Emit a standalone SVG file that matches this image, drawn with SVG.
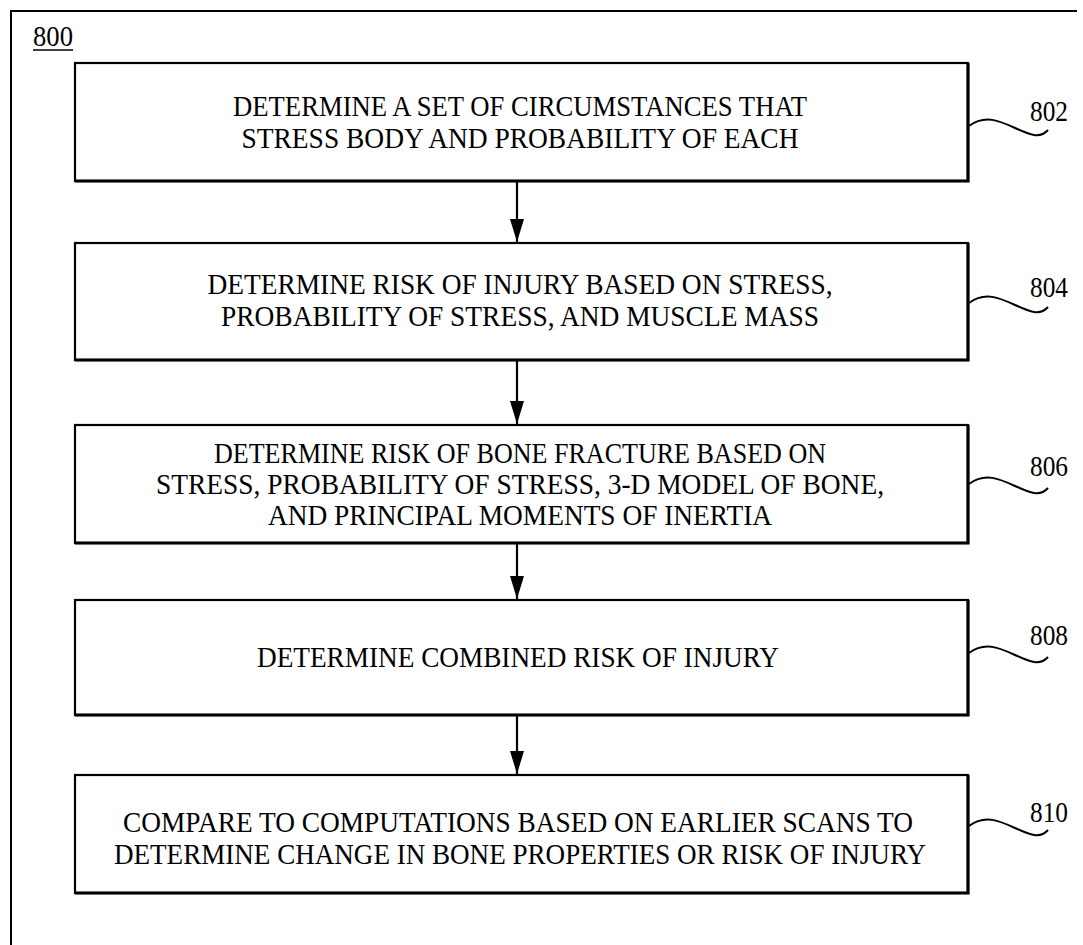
<svg xmlns="http://www.w3.org/2000/svg" width="1083" height="945" viewBox="0 0 1083 945">
<style>
.box{fill:#fff;stroke:#000;stroke-width:2.2}
.shadow{fill:none;stroke:#000;stroke-width:3.2}
.t{font-family:"Liberation Serif","Times New Roman",serif;font-size:30px;fill:#000;text-anchor:middle}
.lbl{font-family:"Liberation Serif","Times New Roman",serif;font-size:30px;fill:#000}
.lead{fill:none;stroke:#000;stroke-width:2}
.arr{stroke:#000;stroke-width:2.2;fill:none}
</style>
<defs>
<marker id="ah" markerWidth="23" markerHeight="14" refX="23" refY="7" orient="auto" markerUnits="userSpaceOnUse" viewBox="0 0 23 14">
<path d="M0,0 L23,7 L0,14 Z" fill="#000"/>
</marker>
</defs>
<rect width="1083" height="945" fill="#fff"/>
<path d="M11,945 V11 H1077" fill="none" stroke="#000" stroke-width="2"/>
<g id="label800">
<text class="lbl" x="33" y="46" textLength="40" lengthAdjust="spacingAndGlyphs">800</text>
<line x1="33" y1="50" x2="73" y2="50" stroke="#000" stroke-width="1.5"/>
</g>
<g id="connectors">
<line class="arr" x1="517" y1="182" x2="517" y2="242" marker-end="url(#ah)"/>
<line class="arr" x1="517" y1="361" x2="517" y2="424" marker-end="url(#ah)"/>
<line class="arr" x1="517" y1="544" x2="517" y2="599" marker-end="url(#ah)"/>
<line class="arr" x1="517" y1="716" x2="517" y2="774" marker-end="url(#ah)"/>
</g>
<g id="n802">
<rect class="box" x="75" y="63" width="893" height="118"/>
<path class="shadow" d="M968,63 V181 H75"/>
<text class="t" x="520" y="116" textLength="574" lengthAdjust="spacingAndGlyphs">DETERMINE A SET OF CIRCUMSTANCES THAT</text>
<text class="t" x="520" y="148" textLength="557" lengthAdjust="spacingAndGlyphs">STRESS BODY AND PROBABILITY OF EACH</text>
<path class="lead" d="M969,126 C985,114 1000,121 1015,128 S1040,139 1048,130"/>
<text class="lbl" x="1030" y="121" textLength="38" lengthAdjust="spacingAndGlyphs">802</text>
</g>
<g id="n804">
<rect class="box" x="75" y="243" width="893" height="117"/>
<path class="shadow" d="M968,243 V360 H75"/>
<text class="t" x="520" y="294" textLength="625" lengthAdjust="spacingAndGlyphs">DETERMINE RISK OF INJURY BASED ON STRESS,</text>
<text class="t" x="520" y="326" textLength="598" lengthAdjust="spacingAndGlyphs">PROBABILITY OF STRESS, AND MUSCLE MASS</text>
<path class="lead" d="M969,303 C985,291 1000,298 1015,305 S1040,316 1048,307"/>
<text class="lbl" x="1030" y="297" textLength="38" lengthAdjust="spacingAndGlyphs">804</text>
</g>
<g id="n806">
<rect class="box" x="75" y="425" width="893" height="118"/>
<path class="shadow" d="M968,425 V543 H75"/>
<text class="t" x="520" y="463" textLength="612" lengthAdjust="spacingAndGlyphs">DETERMINE RISK OF BONE FRACTURE BASED ON</text>
<text class="t" x="520" y="494" textLength="728" lengthAdjust="spacingAndGlyphs">STRESS, PROBABILITY OF STRESS, 3-D MODEL OF BONE,</text>
<text class="t" x="520" y="525" textLength="504" lengthAdjust="spacingAndGlyphs">AND PRINCIPAL MOMENTS OF INERTIA</text>
<path class="lead" d="M969,484 C985,472 1000,479 1015,486 S1040,497 1048,488"/>
<text class="lbl" x="1030" y="476" textLength="38" lengthAdjust="spacingAndGlyphs">806</text>
</g>
<g id="n808">
<rect class="box" x="75" y="600" width="893" height="115"/>
<path class="shadow" d="M968,600 V715 H75"/>
<text class="t" x="518" y="667" textLength="522" lengthAdjust="spacingAndGlyphs">DETERMINE COMBINED RISK OF INJURY</text>
<path class="lead" d="M969,653 C985,641 1000,648 1015,655 S1040,666 1048,657"/>
<text class="lbl" x="1030" y="645" textLength="38" lengthAdjust="spacingAndGlyphs">808</text>
</g>
<g id="n810">
<rect class="box" x="75" y="775" width="893" height="118"/>
<path class="shadow" d="M968,775 V893 H75"/>
<text class="t" x="518" y="832" textLength="790" lengthAdjust="spacingAndGlyphs">COMPARE TO COMPUTATIONS BASED ON EARLIER SCANS TO</text>
<text class="t" x="520" y="864" textLength="812" lengthAdjust="spacingAndGlyphs">DETERMINE CHANGE IN BONE PROPERTIES OR RISK OF INJURY</text>
<path class="lead" d="M969,826 C985,814 1000,821 1015,828 S1040,839 1048,830"/>
<text class="lbl" x="1030" y="822" textLength="38" lengthAdjust="spacingAndGlyphs">810</text>
</g>
</svg>
